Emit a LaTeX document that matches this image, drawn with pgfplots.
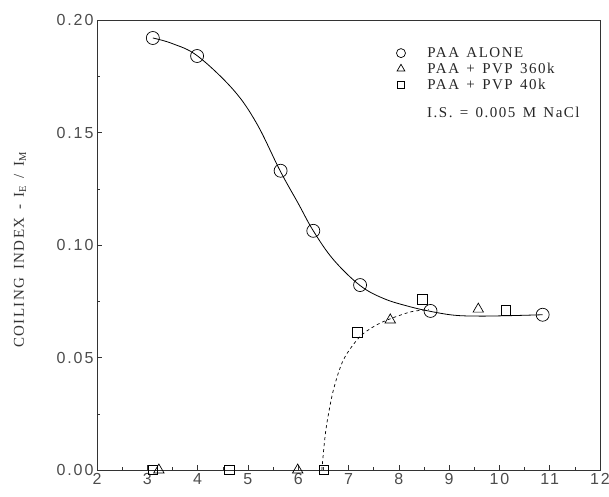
\documentclass[border=0pt]{standalone}
\usepackage{pgfplots}
\pgfplotsset{compat=1.18}
\usepackage{fontspec}
\setmainfont{Liberation Serif}[LetterSpace=10, WordSpace=1.4]
\newfontfamily\tickfont{Liberation Sans}[LetterSpace=12]
\begin{document}
\begin{tikzpicture}
\begin{axis}[
  scale only axis,
  width=503pt, height=450pt,
  xmin=2, xmax=12, ymin=0, ymax=0.2,
  xtick={2,3,...,12},
  ytick={0,0.05,0.1,0.15,0.2},
  minor x tick num=1,
  minor y tick num=1,
  tick align=inside,
  xtick pos=bottom, ytick pos=left,
  major tick length=5pt, minor tick length=3pt,
  axis line style={line width=0.6pt, black!80},
  tick style={line width=0.5pt, black!80},
  /pgf/number format/assume math mode=true,
  ticklabel style={font=\tickfont\fontsize{16}{18}\selectfont, black!70},
  yticklabel style={/pgf/number format/.cd, fixed, fixed zerofill, precision=2},
  xticklabel style={/pgf/number format/.cd, fixed, precision=0},
  ylabel={COILING INDEX - I\textsubscript{E} / I\textsubscript{M}},
  every axis y label/.style={at={(rel axis cs:0,0.5)}, rotate=90, anchor=center,
    yshift=77pt, xshift=-5pt, font=\fontsize{15}{17}\selectfont, black!80},
  clip=false,
  legend style={draw=none, fill=none, at={(rel axis cs:0.595,0.944)}, anchor=north west,
    font=\fontsize{15}{17}\selectfont, text=black!85,
    row sep=0pt, inner sep=0pt,
    /tikz/every odd column/.append style={column sep=20pt}},
  legend cell align=left,
]
% solid curve (PAA alone)
\addplot[forget plot, black, line width=0.8pt, smooth, tension=0.6] coordinates {
 (3.11,0.192) (3.5,0.1895) (4.0,0.184) (4.71,0.169) (5.175,0.154) (5.64,0.133)
 (6.0,0.1185) (6.3,0.1063) (6.7,0.0935) (7.23,0.082) (7.7,0.0762) (8.2,0.0727)
 (8.63,0.0705) (9.1,0.0688) (9.6,0.0684) (10.2,0.0686) (10.86,0.069)};
% dashed curve
\addplot[forget plot, black, line width=0.7pt, dash pattern=on 3pt off 3pt, smooth, tension=0.5] coordinates {
 (6.47,0.0) (6.52,0.012) (6.57,0.0208) (6.70,0.0356) (6.90,0.049) (7.23,0.0593)
 (7.63,0.0653) (8.22,0.0702) (8.6,0.0712)};
% markers
\addplot[only marks, mark=o, mark size=6.5pt, mark options={fill=white, line width=0.7pt, black},
  legend image post style={mark size=4.5pt}] coordinates {
 (3.11,0.192) (3.99,0.184) (5.65,0.133) (6.30,0.1063) (7.23,0.0822) (8.63,0.0707) (10.86,0.069)};
\addlegendentry{PAA ALONE}
\addplot[only marks, mark=triangle, mark size=6pt, mark options={fill=white, line width=0.7pt, black},
  legend image post style={mark size=4.5pt}] coordinates {
 (3.23,0.0) (5.99,0.0) (7.83,0.0667) (9.58,0.0715)};
\addlegendentry{PAA + PVP 360k}
\addplot[only marks, mark=square, mark size=4.8pt, mark options={fill=white, line width=0.7pt, black},
  legend image post style={mark size=3.6pt}] coordinates {
 (3.11,0.0) (4.63,0.0) (6.51,0.0) (7.18,0.0611) (8.47,0.0759) (10.13,0.0709)};
\addlegendentry{PAA + PVP 40k}
\node[font=\fontsize{15}{17}\selectfont, text=black!85] at (axis cs:10.08,0.159) {I.S. = 0.005 M NaCl};
\end{axis}
\pgfresetboundingbox
\path (current axis.south west) ++(-97pt,-26pt) rectangle ++(609pt,496pt);
\end{tikzpicture}
\end{document}
